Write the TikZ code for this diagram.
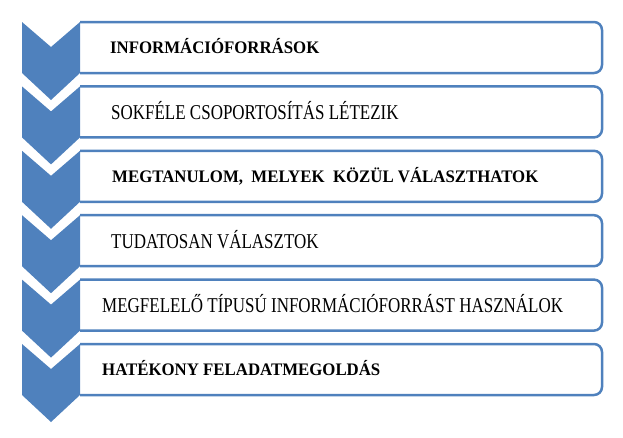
\documentclass[tikz,border=0pt]{standalone}
\usepackage{fontspec}
\setmainfont{Liberation Serif}
\newfontfamily\regfont{Liberation Serif}[FakeStretch=0.805]
\newfontfamily\boldfont{Liberation Serif}[FakeStretch=0.955]
\usepackage{xcolor}
\usepackage{tikz}

\definecolor{chevblue}{RGB}{79,129,189}

\begin{document}
\begin{tikzpicture}[x=1pt,y=-1pt,
%
    bar/.style={draw=chevblue,line width=2.5pt,rounded corners=8pt},
    chev/.style={fill=chevblue,draw=none},
    txt/.style={anchor=base west,inner sep=0pt,font=\regfont\fontsize{21.1}{24}\selectfont},
    btxt/.style={anchor=base west,inner sep=0pt,font=\boldfont\bfseries\fontsize{17.6}{21}\selectfont},
                        ]
    \useasboundingbox (0,0) rectangle (623,437);

    % bars first, chevrons on top of their open left ends
    \foreach \i in {0,...,5}{
        \pgfmathsetmacro{\t}{22+64.4*\i}
        \draw[bar] (80,\t) -- (602,\t) -- (602,\t+51) -- (80,\t+51);
        \fill[chev] (22,\t) -- (51,\t+25) -- (80,\t) -- (80,\t+51)
              -- (51,\t+78) -- (22,\t+51) -- cycle;
    }

    \node[btxt] (src_node)    at (110,53.9)  {INFORMÁCIÓFORRÁSOK};
    \node[txt]  (group_node)  at (111,119.4) {SOKFÉLE CSOPORTOSÍTÁS LÉTEZIK};
    \node[btxt] (learn_node)  at (112,182.7) {MEGTANULOM,\ \ MELYEK\ \ KÖZÜL VÁLASZTHATOK};
    \node[txt]  (choose_node) at (111,248.2) {TUDATOSAN VÁLASZTOK};
    \node[txt]  (use_node)    at (102,312.6) {MEGFELELŐ TÍPUSÚ INFORMÁCIÓFORRÁST HASZNÁLOK};
    \node[btxt] (solve_node)  at (102,375.9) {HATÉKONY FELADATMEGOLDÁS};

    \end{tikzpicture}
\end{document}
